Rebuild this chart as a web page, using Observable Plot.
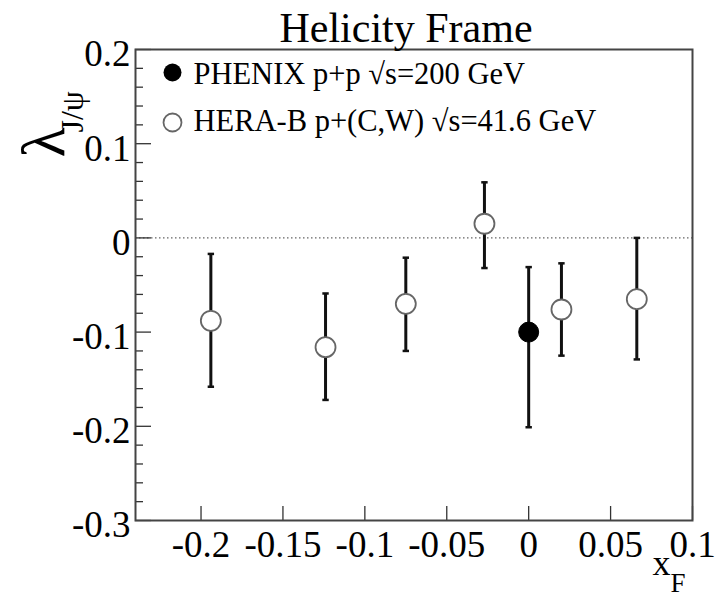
<!DOCTYPE html>
<html><head><meta charset="utf-8">
<script src="https://cdn.jsdelivr.net/npm/d3@7"></script>
<script src="https://cdn.jsdelivr.net/npm/@observablehq/plot@0.6"></script>
<style>body{margin:0;background:#fff}#chart svg{display:block}</style>
</head><body><div id="chart"></div>
<script>
// HERA-B p+(C,W) sqrt(s)=41.6 GeV
const heraX      = [-0.194, -0.124, -0.075, -0.027, 0.020, 0.066];
const heraLambda = [-0.088, -0.116, -0.070,  0.015, -0.076, -0.065];
const heraLow    = [-0.158, -0.172, -0.120, -0.032, -0.125, -0.129];
const heraHigh   = [-0.017, -0.059, -0.021,  0.059, -0.027,  0.000];
// PHENIX p+p sqrt(s)=200 GeV
const phenixX      = [0.0];
const phenixLambda = [-0.100];
const phenixLow    = [-0.201];
const phenixHigh   = [-0.031];

const xTicks = [-0.2, -0.15, -0.1, -0.05, 0, 0.05, 0.1];
const xTickLabels = ["-0.2", "-0.15", "-0.1", "-0.05", "0", "0.05", "0.1"];
const yTicks = [-0.3, -0.2, -0.1, 0, 0.1, 0.2];
const yTickLabels = ["-0.3", "-0.2", "-0.1", "0", "0.1", "0.2"];
const yMinorTicks = [-0.28,-0.26,-0.24,-0.22,-0.18,-0.16,-0.14,-0.12,-0.08,-0.06,-0.04,-0.02,0.02,0.04,0.06,0.08,0.12,0.14,0.16,0.18];
const legendLabels = ["PHENIX p+p \u221As=200 GeV", "HERA-B p+(C,W) \u221As=41.6 GeV"];
const titleText = "Helicity Frame";

const hera = heraX.map((x, i) => ({x, y: heraLambda[i], lo: heraLow[i], hi: heraHigh[i]}));
const phenix = phenixX.map((x, i) => ({x, y: phenixLambda[i], lo: phenixLow[i], hi: phenixHigh[i]}));

const W = 719, H = 596, mL = 135, mR = 27, mT = 49, mB = 76;
const plotW = W - mL - mR, plotH = H - mT - mB;
const serif = "'Liberation Serif','Times New Roman',Times,serif";

const capSymbol = {draw(ctx, size) { const w = Math.sqrt(size / Math.PI); ctx.moveTo(-w, 0); ctx.lineTo(w, 0); }};

const chart = Plot.plot({
  width: W, height: H,
  marginLeft: mL, marginRight: mR, marginTop: mT, marginBottom: mB,
  style: {fontFamily: serif, background: "white", color: "black", overflow: "visible"},
  x: {domain: [-0.24, 0.1]},
  y: {domain: [-0.3, 0.2]},
  marks: [
    Plot.ruleY([0], {stroke: "#666", strokeWidth: 1.2, strokeDasharray: "1.5,2.5"}),
    Plot.tickY(yMinorTicks, {y: d => d, insetRight: plotW - 8, stroke: "#333", strokeWidth: 1.3}),
    Plot.tickY(yTicks, {y: d => d, insetRight: plotW - 16, stroke: "#333", strokeWidth: 1.3}),
    Plot.tickX(xTicks, {x: d => d, insetTop: plotH - 14, stroke: "#333", strokeWidth: 1.3}),
    Plot.frame({stroke: "#444", strokeWidth: 2}),
    Plot.axisX({ticks: xTicks, tickSize: 0, tickPadding: 10, fontSize: 37, label: null, fill: "black",
      tickFormat: d => xTickLabels[xTicks.indexOf(d)]}),
    Plot.axisY({ticks: yTicks, tickSize: 0, tickPadding: 5, fontSize: 37, label: null, dy: 5, fill: "black",
      tickFormat: d => yTickLabels[yTicks.indexOf(d)]}),
    // error bars
    Plot.ruleX(hera, {x: "x", y1: "lo", y2: "hi", stroke: "#111", strokeWidth: 3}),
    Plot.dot(hera, {x: "x", y: "lo", symbol: capSymbol, r: 3.2, stroke: "#111", strokeWidth: 2.5, fill: "none"}),
    Plot.dot(hera, {x: "x", y: "hi", symbol: capSymbol, r: 3.2, stroke: "#111", strokeWidth: 2.5, fill: "none"}),
    Plot.ruleX(phenix, {x: "x", y1: "lo", y2: "hi", stroke: "#111", strokeWidth: 3}),
    Plot.dot(phenix, {x: "x", y: "lo", symbol: capSymbol, r: 3.2, stroke: "#111", strokeWidth: 2.5, fill: "none"}),
    Plot.dot(phenix, {x: "x", y: "hi", symbol: capSymbol, r: 3.2, stroke: "#111", strokeWidth: 2.5, fill: "none"}),
    // markers
    Plot.dot(hera, {x: "x", y: "y", r: 10, fill: "white", stroke: "#666", strokeWidth: 1.8}),
    Plot.dot(phenix, {x: "x", y: "y", r: 10, fill: "black", stroke: "black", strokeWidth: 1}),
    // legend
    Plot.dot([0], {frameAnchor: "top-left", dx: 37, dy: 23, r: 9, fill: "black"}),
    Plot.dot([0], {frameAnchor: "top-left", dx: 37, dy: 73, r: 9, fill: "white", stroke: "#666", strokeWidth: 1.8}),
    Plot.text([legendLabels[0]], {frameAnchor: "top-left", dx: 58, dy: 34, textAnchor: "start", lineAnchor: "bottom", fontSize: 30.5, fill: "black"}),
    Plot.text([legendLabels[1]], {frameAnchor: "top-left", dx: 58, dy: 81, textAnchor: "start", lineAnchor: "bottom", fontSize: 30.5, fill: "black"}),
    // title
    Plot.text([titleText], {frameAnchor: "top", dx: -8, dy: -8, lineAnchor: "bottom", fontSize: 42, fill: "black"}),
    // y label lambda_{J/psi}
    Plot.text(["\u03BB"], {frameAnchor: "top-left", rotate: -90, dx: -72, dy: 108, textAnchor: "start", lineAnchor: "bottom", fontSize: 62, fill: "black"}),
    Plot.text(["J/\u03C8"], {frameAnchor: "top-left", rotate: -90, dx: -53, dy: 83, textAnchor: "start", lineAnchor: "bottom", fontSize: 32, fill: "black"}),
    // x label x_F
    Plot.text(["x"], {frameAnchor: "bottom-right", dx: -22, dy: 54, textAnchor: "end", lineAnchor: "bottom", fontSize: 36, fill: "black"}),
    Plot.text(["F"], {frameAnchor: "bottom-right", dx: -22, dy: 71, textAnchor: "start", lineAnchor: "bottom", fontSize: 27, fill: "black"})
  ]
});
document.getElementById("chart").appendChild(chart);
</script>
</body></html>
